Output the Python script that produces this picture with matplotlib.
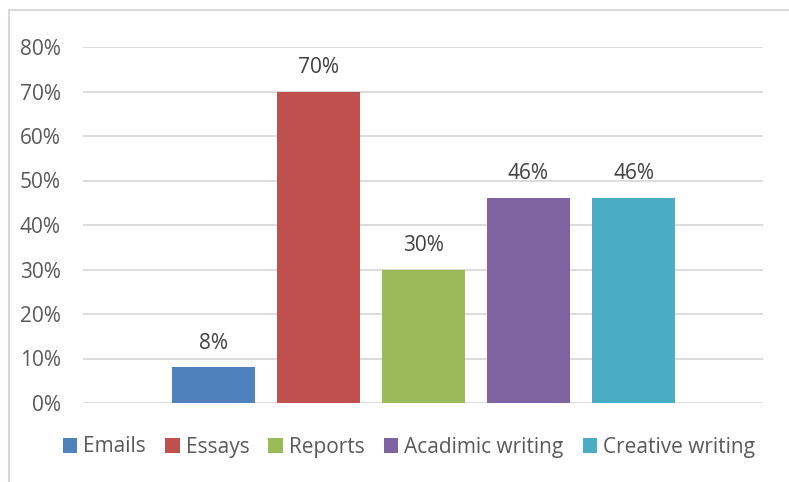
import matplotlib
matplotlib.use("Agg")
import matplotlib.pyplot as plt
from matplotlib.patches import Rectangle
from matplotlib.ticker import FuncFormatter

categories = ["Emails", "Essays", "Reports", "Acadimic writing", "Creative writing"]
values = [0.08, 0.70, 0.30, 0.46, 0.46]
colors = ["#4F81BD", "#C0504D", "#9BBB59", "#8064A2", "#4BACC6"]
yticks = [0.0, 0.1, 0.2, 0.3, 0.4, 0.5, 0.6, 0.7, 0.8]

W, H = 789, 482
plt.rcParams["font.family"] = ["Open Sans", "DejaVu Sans"]
text_color = "#595959"
label_color = "#404040"
grid_color = "#D9D9D9"
fs = 15

fig = plt.figure(figsize=(W / 100, H / 100), dpi=100)

# chart frame
fig.patches.append(Rectangle((9 / W, -0.1), 1.2, (H - 10) / H + 0.1,
                             transform=fig.transFigure, fill=False,
                             edgecolor=grid_color, linewidth=1.5))

ax = fig.add_axes([83 / W, (H - 403) / H, (763 - 83) / W, (403 - 47) / H])

x = list(range(len(categories)))
bar_w = 83 / 105
bars = ax.bar(x, values, width=bar_w, color=colors, label=categories, zorder=3)
for xi, v in zip(x, values):
    ax.annotate(f"{v:.0%}", (xi, v), xytext=(0, 10), textcoords="offset points",
                ha="center", va="bottom", fontsize=fs, color=label_color)

xmin = -(213.5 - 83) / 105
ax.set_xlim(xmin, xmin + 680 / 105)
ax.set_ylim(0, 0.8)
ax.set_yticks(yticks)
ax.yaxis.set_major_formatter(FuncFormatter(lambda v, p: f"{v:.0%}"))
ax.set_xticks([])
ax.tick_params(axis="y", length=0, pad=16, labelsize=fs, labelcolor=text_color)
ax.grid(axis="y", color=grid_color, linewidth=1.3, zorder=0)
for s in ax.spines.values():
    s.set_visible(False)

fig.legend(handles=bars, labels=categories, loc="center",
           bbox_to_anchor=(409 / W, 1 - 447 / H), ncol=5, frameon=False,
           fontsize=fs, labelcolor=text_color, handlelength=0.7,
           handleheight=0.7, handletextpad=0.3, columnspacing=0.9)

fig.savefig("out.png", dpi=100)
